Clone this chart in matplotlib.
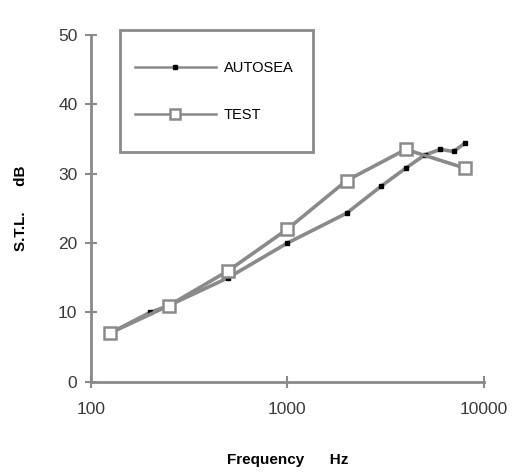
import numpy as np
import matplotlib
matplotlib.use("Agg")
import matplotlib.pyplot as plt
from matplotlib.patches import Rectangle

plt.rcParams['font.family'] = ['Liberation Sans', 'DejaVu Sans']

# STL vs frequency
auto_f = [125, 200, 250, 500, 1000, 2000, 3000, 4000, 5000, 6000, 7000, 8000]
auto_stl = [7, 10, 11, 15, 20, 24.3, 28.2, 30.8, 32.7, 33.5, 33.2, 34.4]

test_f = [125, 250, 500, 1000, 2000, 4000, 8000]
test_stl = [7, 11, 16, 22, 29, 33.5, 30.8]

xticks = [100, 1000, 10000]
yticks = [0, 10, 20, 30, 40, 50]

grey = "#8a8a8a"

fig = plt.figure(figsize=(5.21, 4.72), dpi=100)
ax = fig.add_axes([0.174, 0.191, 0.755, 0.735])

ax.plot(auto_f, auto_stl, color=grey, lw=2.6, marker="s", ms=3.2,
        mfc="black", mec="black", label="AUTOSEA")
ax.plot(test_f, test_stl, color=grey, lw=2.6, marker="s", ms=8.5,
        mfc="white", mec=grey, mew=1.8, label="TEST")

ax.set_xscale("log")
ax.set_xlim(100, 10000)
ax.set_ylim(0, 50)
ax.set_xticks(xticks)
ax.set_xticklabels([str(t) for t in xticks])
ax.xaxis.set_minor_locator(matplotlib.ticker.NullLocator())
ax.set_yticks(yticks)

for s in ["top", "right"]:
    ax.spines[s].set_visible(False)
for s in ["left", "bottom"]:
    ax.spines[s].set_color(grey)
    ax.spines[s].set_linewidth(2)

ax.tick_params(direction="inout", length=9, width=1.5, color=grey,
               labelsize=12.5, labelcolor="#3a3a3a")
ax.tick_params(axis="x", pad=10)
ax.tick_params(axis="y", pad=5)

ax.set_xlabel("Frequency      Hz", fontsize=11, fontweight="bold", labelpad=26)
ax.set_ylabel("S.T.L.      dB", fontsize=11, fontweight="bold", labelpad=22)

# legend box
ax.add_patch(Rectangle((0.0745, 0.663), 0.4905, 0.351, transform=ax.transAxes,
                       fill=False, ec=grey, lw=2, clip_on=False))
leg = ax.legend(loc="upper left", bbox_to_anchor=(0.093, 0.945), fontsize=10.5,
                handlelength=5.6, labelspacing=2.25, borderpad=0,
                handletextpad=0.5, frameon=False)
for line in leg.get_lines():
    line.set_linewidth(1.8)
leg.get_lines()[1].set_markersize(7)

fig.savefig("out.png", dpi=100)
